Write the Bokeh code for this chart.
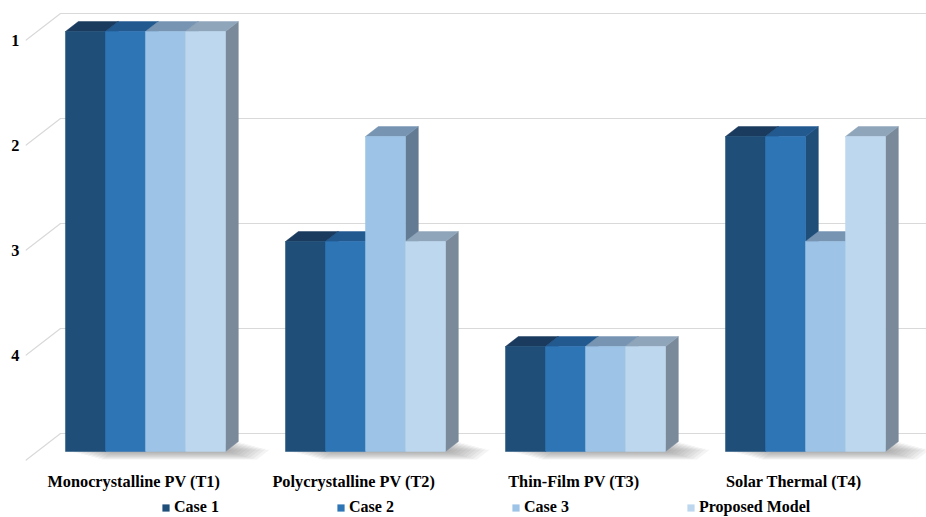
from bokeh.plotting import figure
from bokeh.layouts import column
from bokeh.models import (Range1d, FixedTicker, CustomJSTickFormatter, Legend,
                          LegendItem, LinearAxis)
from bokeh.embed import file_html
from bokeh.resources import INLINE

# Ranking data (1 = best) per technology and scenario
CATEGORIES = ["Monocrystalline PV (T1)", "Polycrystalline PV (T2)",
              "Thin-Film PV (T3)", "Solar Thermal (T4)"]
SERIES = ["Case 1", "Case 2", "Case 3", "Proposed Model"]
CASE1 = [1, 3, 4, 2]
CASE2 = [1, 3, 4, 2]
CASE3 = [1, 2, 4, 3]
PROPOSED = [1, 3, 4, 2]
RANK_TICKS = [1, 2, 3, 4]
BASE = 5  # floor of the (reversed) rank axis

VALUES = [CASE1, CASE2, CASE3, PROPOSED]
FRONT = ["#1F4E79", "#2E75B6", "#9DC3E6", "#BDD7EE"]
TOP = ["#1B3B5E", "#22598F", "#7794B3", "#8FA5BA"]
SIDE = ["#183E62", "#1F4E79", "#637B93", "#7A8A9A"]

# oblique projection: depth t in [0, 1] shifts points right and up
DX = 35 / 220
DV = -27 / 105
T0, T1 = 0.333, 0.70          # front / back depth of the bars
BW = 40 / 220                 # bar width in category units
X_START, X_END = -0.4923, 3.603
FLOOR_LEFT = X_START

def proj(x3, v, t):
    return x3 + t * DX, v + t * DV

FONT = "Liberation Serif"

p = figure(width=926, height=497, output_backend="svg", toolbar_location=None,
           x_range=Range1d(X_START, X_END), y_range=Range1d(5.057, 0.619),
           min_border_left=25, min_border_right=0, min_border_top=0,
           min_border_bottom=31, outline_line_color=None,
           x_axis_location=None, y_axis_location=None)
p.xgrid.visible = False
p.ygrid.visible = False

# perspective gridlines: slanted side-wall segment then the back wall
gxs, gys = [], []
for v in RANK_TICKS + [BASE]:
    x0, y0 = proj(FLOOR_LEFT, v, 0)
    x1, y1 = proj(FLOOR_LEFT, v, 1)
    gxs.append([x0, x1, X_END])
    gys.append([y0, y1, y1])
p.multi_line(gxs, gys, line_color="#D9D9D9", line_width=1.2)

# soft floor shadow under each group of bars
N = 10
for i in range(len(CATEGORIES)):
    xl = i - 2 * BW
    xr = i + 2 * BW
    sx, sy = [], []
    for k in range(N):
        f = k / (N - 1)
        s, d = 0.19 * f, 0.30 * f
        pts = [proj(xl + 0.02 + s, BASE, T0 - d), proj(xr + s, BASE, T0 - d),
               proj(xr + s, BASE, T1 - d), proj(xl + 0.02 + s, BASE, T1 - d)]
        sx.append([q[0] for q in pts])
        sy.append([q[1] for q in pts])
    p.patches(sx, sy, fill_color="#6E6E6E", fill_alpha=0.08, line_color=None)

# bars: series left to right, each drawn side, top, front
for j, vals in enumerate(VALUES):
    fxs, fys, txs, tys, sxs, sys_ = [], [], [], [], [], []
    for i, v in enumerate(vals):
        xl = i - 2 * BW + j * BW
        xr = xl + BW
        front = [proj(xl, v, T0), proj(xr, v, T0), proj(xr, BASE, T0), proj(xl, BASE, T0)]
        top = [proj(xl, v, T0), proj(xr, v, T0), proj(xr, v, T1), proj(xl, v, T1)]
        side = [proj(xr, v, T0), proj(xr, v, T1), proj(xr, BASE, T1), proj(xr, BASE, T0)]
        fxs.append([q[0] for q in front]); fys.append([q[1] for q in front])
        txs.append([q[0] for q in top]); tys.append([q[1] for q in top])
        sxs.append([q[0] for q in side]); sys_.append([q[1] for q in side])
    p.patches(sxs, sys_, fill_color=SIDE[j], line_color=SIDE[j], line_width=0.5)
    p.patches(txs, tys, fill_color=TOP[j], line_color=TOP[j], line_width=0.5)
    p.patches(fxs, fys, fill_color=FRONT[j], line_color=FRONT[j], line_width=0.5)

def style_axis(ax, standoff):
    ax.axis_line_color = None
    ax.major_tick_line_color = None
    ax.minor_tick_line_color = None
    ax.major_tick_out = 0
    ax.major_tick_in = 0
    ax.minor_tick_out = 0
    ax.minor_tick_in = 0
    ax.major_label_standoff = standoff
    ax.major_label_text_font = FONT
    ax.major_label_text_font_style = "bold"
    ax.major_label_text_font_size = "16.3px"
    ax.major_label_text_color = "#000000"

# rank axis on the left
yax = LinearAxis(ticker=FixedTicker(ticks=RANK_TICKS))
style_axis(yax, 6)
p.add_layout(yax, "left")

# category axis below, one label per group on the floor's front edge
xticks = list(range(len(CATEGORIES)))
xax = LinearAxis(ticker=FixedTicker(ticks=xticks),
                 formatter=CustomJSTickFormatter(
                     args=dict(names=CATEGORIES),
                     code="return names[Math.round(tick)]"))
style_axis(xax, 5)
p.add_layout(xax, "below")

# legend strip underneath the chart
pl = figure(width=926, height=20, output_backend="svg", toolbar_location=None,
            x_range=Range1d(0, 1), y_range=Range1d(0, 1), min_border=0,
            outline_line_color=None, x_axis_location=None, y_axis_location=None)
pl.xgrid.visible = False
pl.ygrid.visible = False
items = []
for j, name in enumerate(SERIES):
    r = pl.patches([[2, 2, 2]], [[2, 2, 2]], fill_color=FRONT[j], line_color=None)
    items.append(LegendItem(label=name, renderers=[r]))
legend = Legend(items=items, orientation="horizontal",
                location=(136, 1), spacing=0, label_width=162,
                glyph_width=9, glyph_height=9, label_standoff=4,
                padding=0, margin=0, border_line_color=None,
                background_fill_alpha=0,
                label_text_font=FONT, label_text_font_style="bold",
                label_text_font_size="16px", label_text_color="#000000")
pl.add_layout(legend, "center")

open("out.html", "w").write(file_html(column(p, pl, spacing=0), INLINE))
